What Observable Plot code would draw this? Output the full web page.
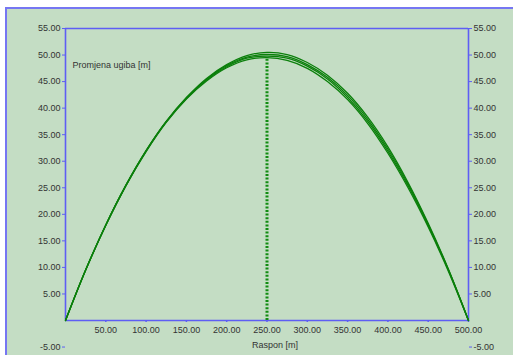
<!DOCTYPE html>
<html>
<head>
<meta charset="utf-8">
<script src="https://cdn.jsdelivr.net/npm/d3@7"></script>
<script src="https://cdn.jsdelivr.net/npm/@observablehq/plot@0.6"></script>
<style>
  html, body { margin: 0; padding: 0; background: #ffffff; }
  #wrap { position: relative; width: 513px; height: 355px; overflow: hidden; }
  #wrap svg { position: absolute; left: 0; top: 0; }
  .mask-top { position: absolute; left: 0; top: 0; width: 513px; height: 8px; background: #ffffff; }
  .mask-left { position: absolute; left: 0; top: 0; width: 6px; height: 355px; background: #ffffff; }
  .line-top { position: absolute; left: 6px; top: 7px; width: 507px; height: 2px; background: #7676f2; }
  .line-left { position: absolute; left: 5px; top: 7px; width: 2px; height: 348px; background: #7676f2; }
</style>
</head>
<body>
<div id="wrap"></div>
<script>
// Span positions (m)
const span = [0, 25, 50, 75, 100, 125, 150, 175, 200, 225, 250, 275, 300, 325, 350, 375, 400, 425, 450, 475, 500];
// Sag change series (m)
const sagA = [0, 9.5, 18.0, 25.5, 32.0, 37.5, 42.0, 45.6, 48.2, 49.9, 50.5, 50.1, 48.6, 46.2, 42.8, 38.3, 32.7, 26.0, 18.3, 9.7, 0];
const sagB = [0, 9.5, 18.0, 25.5, 32.0, 37.5, 41.9, 45.4, 48.0, 49.6, 50.1, 49.7, 48.2, 45.8, 42.4, 37.9, 32.3, 25.7, 18.1, 9.6, 0];
const sagC = [0, 9.5, 18.0, 25.4, 31.9, 37.4, 41.8, 45.3, 47.8, 49.4, 49.8, 49.4, 47.9, 45.5, 42.0, 37.5, 31.9, 25.4, 17.9, 9.5, 0];
const sagD = [0, 9.5, 17.9, 25.4, 31.8, 37.3, 41.7, 45.1, 47.6, 49.1, 49.5, 49.0, 47.5, 45.0, 41.6, 37.1, 31.5, 25.0, 17.6, 9.3, 0];
const seriesList = [sagA, sagB, sagC, sagD];
// Mid-span marker
const markerX = [250];
const markerTop = [49.5];
// Tick labels
const yTicks = [-5, 5, 10, 15, 20, 25, 30, 35, 40, 45, 50, 55];
const xTicks = [50, 100, 150, 200, 250, 300, 350, 400, 450, 500];
const yTitle = "Promjena ugiba [m]";
const xTitle = "Raspon [m]";

const rows = [];
seriesList.forEach((s, k) => s.forEach((v, i) => rows.push({series: k, x: span[i], y: v})));

const blue = "#5e5ef4";
const green = "#0b7f0b";
const textCol = "#333333";
const font = "Liberation Sans, Arial, sans-serif";

const chart = Plot.plot({
  width: 513,
  height: 355,
  marginLeft: 65,
  marginRight: 45,
  marginTop: 28,
  marginBottom: 35,
  style: {background: "#c4ddc4", fontFamily: font, fontSize: "9px", overflow: "visible"},
  x: {domain: [0, 500]},
  y: {domain: [0, 55]},
  marks: [
    // frame
    Plot.ruleX([0, 500], {y1: 0, y2: 55, stroke: blue, strokeWidth: 1.6}),
    Plot.ruleY([0, 55], {x1: 0, x2: 500, stroke: blue, strokeWidth: 1.6}),
    // axes
    Plot.axisY(yTicks, {anchor: "left", tickSize: 3, tickPadding: 2, stroke: blue, fill: textCol,
      tickFormat: d => d.toFixed(2), label: null, fontSize: 9}),
    Plot.axisY(yTicks, {anchor: "right", tickSize: 3, tickPadding: 2, stroke: blue, fill: textCol,
      tickFormat: d => d.toFixed(2), label: null, fontSize: 9}),
    Plot.axisX(xTicks, {anchor: "bottom", tickSize: 2, tickPadding: 4, stroke: blue, strokeWidth: 1.5, fill: textCol,
      tickFormat: d => d.toFixed(2), label: null, fontSize: 9}),
    // data
    Plot.line(rows, {x: "x", y: "y", z: "series", stroke: green, strokeWidth: 1.3, curve: "catmull-rom"}),
    Plot.ruleX(markerX, {x: d => d, y1: 0, y2: (d, i) => markerTop[i], stroke: "#128c12", strokeWidth: 3, strokeDasharray: "2,1.6"}),
    // titles
    Plot.text([yTitle], {frameAnchor: "top-left", dx: 7, dy: 33, text: d => d, textAnchor: "start", fill: textCol, fontSize: 9}),
    Plot.text([xTitle], {frameAnchor: "bottom", dx: 8, dy: 27, text: d => d, fill: textCol, fontSize: 9})
  ]
});

const wrap = document.getElementById("wrap");
wrap.appendChild(chart);
["mask-top", "mask-left", "line-top", "line-left"].forEach(c => {
  const d = document.createElement("div");
  d.className = c;
  wrap.appendChild(d);
});
</script>
</body>
</html>
